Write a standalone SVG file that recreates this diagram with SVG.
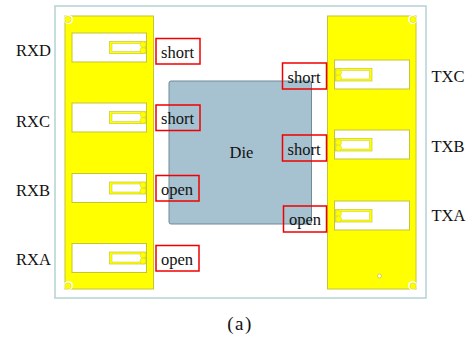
<svg xmlns="http://www.w3.org/2000/svg" width="474" height="343" viewBox="0 0 474 343">
<defs>
<style>
text{font-family:"Liberation Serif","Times New Roman",serif;font-size:16.500px;fill:#111}
.pad{fill:#ffff00;stroke:#c4c43a;stroke-width:1}
.win{fill:#fff;stroke:#c4c43a;stroke-width:1}
.loop{fill:#ffff00;stroke:#c8c83c;stroke-width:.7}
.inner{fill:#fff;stroke:#c8c83c;stroke-width:.5}
.dot{fill:#ffff00;stroke:#c4c43a;stroke-width:.4}
.corner{fill:#fff;stroke:none}
.tag{fill:none;stroke:#f00000;stroke-width:1.500}
</style>
<g id="resL">
<rect class="win" x="0" y="0" width="74.500" height="29"/>
<rect class="loop" x="37.500" y="8.500" width="36" height="12"/>
<rect class="inner" x="40" y="10.500" width="30" height="8"/>
<circle class="dot" cx="71" cy="11.500" r="3"/>
<circle class="dot" cx="71" cy="17.500" r="3"/>
</g>
<g id="resR">
<rect class="win" x="0" y="0" width="75" height="29"/>
<rect class="loop" x="1" y="8.500" width="36.500" height="12.500"/>
<rect class="inner" x="4" y="10.500" width="31" height="8.500"/>
<circle class="dot" cx="4" cy="12.500" r="3"/>
<circle class="dot" cx="4" cy="18" r="3"/>
</g>
</defs>
<rect width="474" height="343" fill="#fff"/>
<rect id="board" x="55" y="6" width="371" height="292" fill="#fff" stroke="#b4d2d4" stroke-width="1.500"/>
<g id="die"><rect x="169" y="81" width="142.500" height="143" rx="2" fill="#a6c1cf" stroke="#6f8a99" stroke-width="1"/><text x="241.500" y="157.500" text-anchor="middle">Die</text></g>
<g id="left-pad">
<rect class="pad" x="65" y="16" width="88.500" height="273"/>
<circle class="corner" cx="68.500" cy="19.500" r="4.500"/>
<circle class="dot" cx="68" cy="19.500" r="3.200"/>
<circle class="corner" cx="68.500" cy="285.500" r="4.500"/>
<circle class="dot" cx="68" cy="286" r="3.200"/>
</g>
<g id="right-pad">
<rect class="pad" x="327.500" y="16" width="88.500" height="273"/>
<circle class="corner" cx="412.500" cy="19.500" r="4.500"/>
<circle class="dot" cx="413" cy="19.500" r="3.200"/>
<circle class="corner" cx="412.500" cy="285.500" r="4.500"/>
<circle class="dot" cx="413" cy="286" r="3.200"/>
<circle cx="379.500" cy="276" r="2" fill="#fff" stroke="#c4c43a" stroke-width=".8"/>
</g>
<g id="RXD"><use href="#resL" x="72" y="33"/><text x="16" y="56">RXD</text></g>
<g id="RXC"><use href="#resL" x="72" y="103"/><text x="16" y="126.500">RXC</text></g>
<g id="RXB"><use href="#resL" x="72" y="173.500"/><text x="16" y="196">RXB</text></g>
<g id="RXA"><use href="#resL" x="72" y="243.500"/><text x="16" y="265">RXA</text></g>
<g id="TXC"><use href="#resR" x="334.500" y="60"/><text x="431.500" y="81.500">TXC</text></g>
<g id="TXB"><use href="#resR" x="334.500" y="130"/><text x="431.500" y="151.500">TXB</text></g>
<g id="TXA"><use href="#resR" x="334.500" y="201"/><text x="431.500" y="221">TXA</text></g>
<g id="tag-rxd"><rect class="tag" x="156" y="38.500" width="44" height="25.500"/><text x="161" y="58">short</text></g>
<g id="tag-rxc"><rect class="tag" x="156" y="105" width="44" height="25.500"/><text x="161" y="124">short</text></g>
<g id="tag-rxb"><rect class="tag" x="156" y="175.500" width="43" height="25.500"/><text x="161" y="194.500">open</text></g>
<g id="tag-rxa"><rect class="tag" x="156" y="245.500" width="43" height="25.500"/><text x="161" y="264.500">open</text></g>
<g id="tag-txc"><rect class="tag" x="282.500" y="63" width="44" height="26"/><text x="287.500" y="82.500">short</text></g>
<g id="tag-txb"><rect class="tag" x="282.500" y="135" width="44" height="26"/><text x="287.500" y="154.500">short</text></g>
<g id="tag-txa"><rect class="tag" x="283.500" y="206" width="43" height="26"/><text x="289" y="225">open</text></g>
<text x="240" y="330" text-anchor="middle" style="font-size:19px;letter-spacing:1.500px">(a)</text>
<g id="connectors"/>
</svg>
